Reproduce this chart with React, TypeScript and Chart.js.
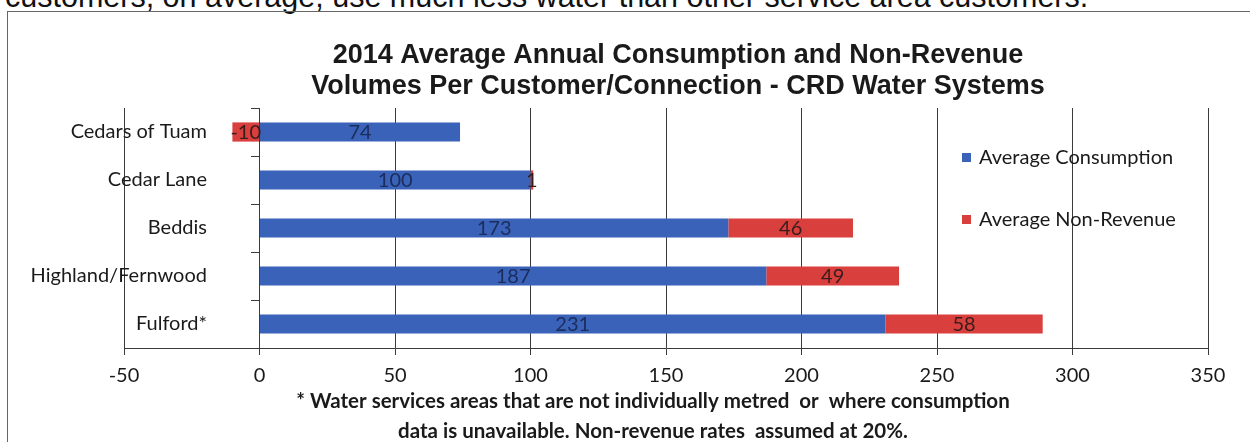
import React, { useEffect, useRef } from "react";
import { Chart, registerables } from "chart.js";

Chart.register(...registerables);

const categories = ["Cedars of Tuam", "Cedar Lane", "Beddis", "Highland/Fernwood", "Fulford*"];
const consumption = [74, 100, 173, 187, 231];
const nonRevenue = [-10, 1, 46, 49, 58];
const seriesNames = ["Average Consumption", "Average Non-Revenue"];
const seriesColors = ["#3a62b8", "#d9403d"];
const labelColors = ["#1a2d5c", "#3a1c1c"];
const xTicks = [-50, 0, 50, 100, 150, 200, 250, 300, 350];
const titleLines = [
  "2014 Average Annual Consumption and Non-Revenue",
  "Volumes Per Customer/Connection - CRD Water Systems",
];
const footnoteLines = [
  "* Water services areas that are not individually metred  or  where consumption",
  "data is unavailable. Non-revenue rates  assumed at 20%.",
];
const introText = "customers, on average, use much less water than other service area customers.";

const BODY_FONT = "Lato, 'Open Sans', sans-serif";
const TITLE_FONT = "'Liberation Sans', Arial, sans-serif";

const decorPlugin = {
  id: "decor",
  afterDatasetsDraw(chart: any) {
    const ctx = chart.ctx;
    ctx.save();
    ctx.font = `20px ${BODY_FONT}`;
    ctx.textAlign = "center";
    ctx.textBaseline = "middle";
    chart.data.datasets.forEach((ds: any, i: number) => {
      const meta = chart.getDatasetMeta(i);
      meta.data.forEach((bar: any, j: number) => {
        const p = bar.getProps(["x", "y", "base"], true);
        ctx.fillStyle = labelColors[i];
        ctx.fillText(String(ds.data[j]), (p.x + p.base) / 2, p.y + 1);
      });
    });
    ctx.restore();
  },
  afterDraw(chart: any) {
    const ctx = chart.ctx;
    const ca = chart.chartArea;
    ctx.save();
    // title
    ctx.fillStyle = "#1a1a1a";
    ctx.textAlign = "center";
    ctx.textBaseline = "middle";
    ctx.font = `bold 27px ${TITLE_FONT}`;
    titleLines.forEach((t, i) => ctx.fillText(t, 678, 56 + i * 31));
    // footnote
    ctx.textBaseline = "alphabetic";
    ctx.font = `bold 20.5px ${BODY_FONT}`;
    footnoteLines.forEach((t, i) => ctx.fillText(t, 653, 408 + i * 30));
    // legend
    ctx.textBaseline = "middle";
    ctx.textAlign = "left";
    ctx.font = `20px ${BODY_FONT}`;
    chart.data.datasets.forEach((ds: any, i: number) => {
      const y = ca.top + 50 + i * 62;
      const x = ca.left + 838;
      ctx.fillStyle = ds.backgroundColor;
      ctx.fillRect(x, y - 5, 9, 9);
      ctx.fillStyle = "#1a1a1a";
      ctx.fillText(ds.label, x + 17, y);
    });
    ctx.restore();
  },
};

export default function App() {
  const ref = useRef<HTMLCanvasElement | null>(null);
  useEffect(() => {
    if (!ref.current) return;
    const chart = new Chart(ref.current, {
      type: "bar",
      data: {
        labels: categories,
        datasets: [
          { label: seriesNames[0], data: consumption, backgroundColor: seriesColors[0], barPercentage: 0.4, categoryPercentage: 1 },
          { label: seriesNames[1], data: nonRevenue, backgroundColor: seriesColors[1], barPercentage: 0.4, categoryPercentage: 1 },
        ],
      },
      options: {
        indexAxis: "y",
        responsive: false,
        animation: false,
        devicePixelRatio: 1,
        layout: { padding: { left: 124, right: 42, top: 108, bottom: 54 } },
        plugins: { legend: { display: false }, title: { display: false }, tooltip: { enabled: false } },
        scales: {
          x: {
            stacked: true,
            min: xTicks[0],
            max: xTicks[xTicks.length - 1],
            afterBuildTicks: (s: any) => {
              s.ticks = xTicks.map((v) => ({ value: v }));
            },
            afterFit: (s: any) => {
              s.height = 40;
            },
            grid: { color: "#3a3a3a", lineWidth: 1, tickLength: 7, drawTicks: true },
            border: { display: true, color: "#3a3a3a", width: 1 },
            ticks: { color: "#1a1a1a", font: { family: BODY_FONT, size: 20 }, padding: 9, autoSkip: false, maxRotation: 0 },
          },
          y: {
            stacked: true,
            position: { x: 0 } as any,
            afterFit: (s: any) => {
              s.width = 0;
            },
            grid: { drawOnChartArea: false, drawTicks: true, tickLength: 8, color: "#3a3a3a", offset: true },
            border: { display: true, color: "#3a3a3a", width: 1 },
            ticks: { display: false },
          },
          yLabels: {
            type: "category",
            axis: "y",
            position: "left",
            offset: true,
            afterFit: (s: any) => {
              s.width = 0;
              // let the category labels extend past the (zero-width) scale box
              s._computeLabelArea = () => undefined;
            },
            grid: { display: false, offset: true },
            border: { display: false },
            ticks: { color: "#1a1a1a", font: { family: BODY_FONT, size: 20 }, padding: -91, autoSkip: false },
          },
        } as any,
      },
      plugins: [decorPlugin],
    });
    return () => chart.destroy();
  }, []);

  return (
    <div style={{ position: "absolute", left: 0, top: 0, width: 1250, height: 442, overflow: "hidden", background: "#fff" }}>
      <div
        style={{
          position: "absolute",
          left: 5,
          top: -21,
          whiteSpace: "nowrap",
          font: `30.5px ${TITLE_FONT}`,
          lineHeight: "34px",
          color: "#111",
        }}
      >
        {introText}
      </div>
      <div style={{ position: "absolute", left: 7, top: 11, width: 1300, height: 500, border: "1.5px solid #666" }} />
      <canvas ref={ref} width={1250} height={442} style={{ position: "absolute", left: 0, top: 0, width: 1250, height: 442 }} />
    </div>
  );
}
